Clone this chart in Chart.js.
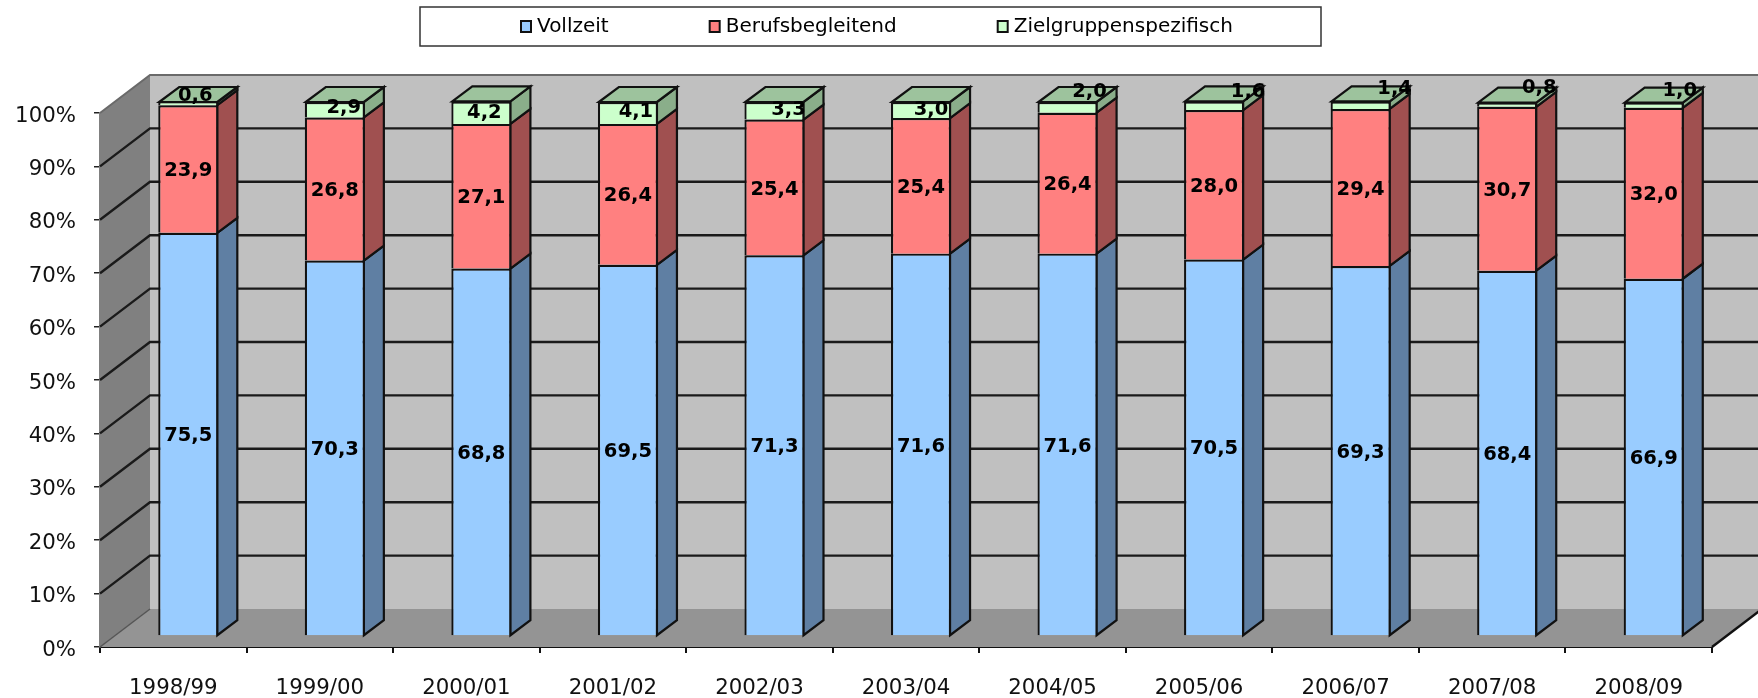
<!DOCTYPE html>
<html><head><meta charset="utf-8">
<style>html,body{margin:0;padding:0;background:#fff}#w{width:1758px;height:698px}</style>
<script src="https://cdn.jsdelivr.net/npm/chart.js@4"></script></head>
<body><div id="w"><canvas id="c" width="1758" height="698"></canvas></div>
<script>
const categories = ['1998/99','1999/00','2000/01','2001/02','2002/03','2003/04','2004/05','2005/06','2006/07','2007/08','2008/09'];
const vollzeit = [75.5,70.3,68.8,69.5,71.3,71.6,71.6,70.5,69.3,68.4,66.9];
const berufsbegleitend = [23.9,26.8,27.1,26.4,25.4,25.4,26.4,28.0,29.4,30.7,32.0];
const zielgruppen = [0.6,2.9,4.2,4.1,3.3,3.0,2.0,1.6,1.4,0.8,1.0];

const FONT = '"DejaVu Sans"';
const wall = {dx:50, dy:-38};
const barShift = {x:15, y:-11};
const barDepth = {x:20, y:-15};
const sideColors = ['#5F7FA3','#A05050','#8AAE8A'];
const topColor = '#9DC39D';
// hand placement of the labels of the top (green) segment, [dx, dy]
const topNudge = [[7,-8],[9,-2],[3,0],[8,-1],[14,-1],[10,0],[22,-15],[34,-14],[34,-16],[32,-17],[26,-14]];

const scene = {
  id:'scene',
  beforeDatasetsDraw(chart){
    const c=chart.ctx, a=chart.chartArea, ys=chart.scales.y;
    const right=1758;
    const poly=(pts,fill,stroke,lw)=>{c.beginPath();pts.forEach((p,i)=>i?c.lineTo(p[0],p[1]):c.moveTo(p[0],p[1]));c.closePath();
      if(fill){c.fillStyle=fill;c.fill();} if(stroke){c.strokeStyle=stroke;c.lineWidth=lw||1;c.stroke();}};
    const bx=a.left+wall.dx, t=a.top, b=a.bottom, d=wall.dy;
    c.save();
    poly([[bx,t+d],[right+2,t+d],[right+2,b+d],[bx,b+d]],'#C0C0C0');
    poly([[a.left,t],[bx,t+d],[bx,b+d],[a.left,b]],'#808080');
    c.strokeStyle='#6a6a6a';c.lineWidth=2;
    c.beginPath();c.moveTo(a.left,t);c.lineTo(bx,t+d);c.lineTo(right,t+d);c.stroke();
    poly([[a.left,b],[bx,b+d],[right+2,b+d],[a.right+wall.dx,b+d],[a.right,b]],'#949494');
    ys.ticks.forEach(tk=>{
      const y=ys.getPixelForValue(tk.value);
      if(tk.value===100)return;
      c.strokeStyle=tk.value>0?'#1a1a1a':'#555';c.lineWidth=tk.value>0?2.4:1.5;
      c.beginPath();c.moveTo(a.left,y);
      c.lineTo(bx,y+d);
      if(tk.value>0)c.lineTo(right,y+d);
      c.stroke();
    });
    c.strokeStyle='#111';c.lineWidth=2.4;
    c.beginPath();c.moveTo(a.right+wall.dx,b+d);c.lineTo(a.right,b);c.stroke();
    c.restore();
    c.save();
    c.translate(barShift.x,barShift.y);
    chart.data.datasets.forEach((ds,i)=>{
      chart.getDatasetMeta(i).data.forEach(el=>{
        const x2=el.x+el.width/2-1, x1=el.x-el.width/2+1;
        poly([[x2,el.base],[x2+barDepth.x,el.base+barDepth.y],[x2+barDepth.x,el.y+barDepth.y],[x2,el.y]],sideColors[i],'#111',2.2);
        if(i===chart.data.datasets.length-1)
          poly([[x1,el.y],[x1+barDepth.x,el.y+barDepth.y],[x2+barDepth.x,el.y+barDepth.y],[x2,el.y]],topColor,'#111',2.2);
      });
    });
  },
  afterDatasetsDraw(chart){
    const c=chart.ctx;
    c.fillStyle='#000';c.font='bold 19.5px '+FONT;c.textAlign='center';c.textBaseline='middle';
    chart.data.datasets.forEach((ds,i)=>{
      chart.getDatasetMeta(i).data.forEach((el,j)=>{
        const n=i===2?topNudge[j]:[0,2];
        c.fillText(ds.data[j].toFixed(1).replace('.',','),el.x+n[0],(el.y+el.base)/2+n[1]);
      });
    });
    c.restore();
  },
  afterDraw(chart){
    const c=chart.ctx;
    c.save();
    c.fillStyle='#fff';c.strokeStyle='#333';c.lineWidth=1.5;
    c.fillRect(420,7,901,39);c.strokeRect(420,7,901,39);
    c.font='20px '+FONT;c.textBaseline='middle';c.textAlign='left';
    let x=521;
    chart.data.datasets.forEach(ds=>{
      c.fillStyle=ds.backgroundColor;c.strokeStyle='#111';c.lineWidth=2;
      c.fillRect(x,21,10,11);c.strokeRect(x,21,10,11);
      c.fillStyle='#000';
      c.fillText(ds.label,x+16,27);
      x+=16+c.measureText(ds.label).width+101;
    });
    c.restore();
  }
};

new Chart(document.getElementById('c'),{
  type:'bar',
  data:{labels:categories,datasets:[
    {label:'Vollzeit',data:vollzeit,backgroundColor:'#99CCFF'},
    {label:'Berufsbegleitend',data:berufsbegleitend,backgroundColor:'#FF8080'},
    {label:'Zielgruppenspezifisch',data:zielgruppen,backgroundColor:'#CCFFCC'}
  ].map(d=>Object.assign(d,{borderColor:'#111',borderWidth:2.2,clip:false,barPercentage:0.41,categoryPercentage:1}))},
  options:{
    responsive:false,animation:false,
    layout:{padding:{top:113,right:46,left:0,bottom:0}},
    plugins:{legend:{display:false},tooltip:{enabled:false}},
    scales:{
      x:{stacked:true,
        afterFit(s){s.height=51;},
        grid:{drawOnChartArea:false,color:'#111',tickLength:6,lineWidth:2},
        border:{color:'#111',width:2},
        ticks:{font:{family:FONT,size:21.3},color:'#111',padding:23,maxRotation:0}},
      y:{stacked:true,min:0,max:100,
        afterFit(s){s.width=100;},
        grid:{drawOnChartArea:false,color:'#222',tickLength:6,lineWidth:1.5},
        border:{color:'#808080',width:2},
        ticks:{stepSize:10,font:{family:FONT,size:21.3},color:'#111',padding:18,labelOffset:3,callback:v=>v+'%'}}
    }
  },
  plugins:[scene]
});
</script></body></html>
